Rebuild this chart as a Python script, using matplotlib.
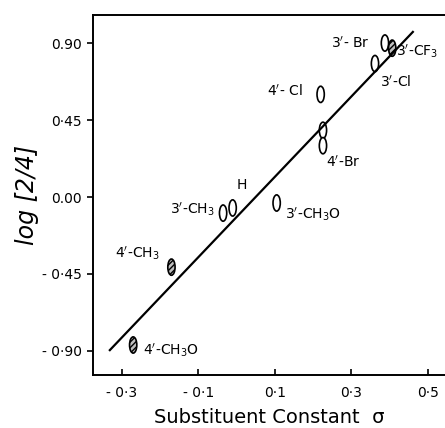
import numpy as np
import matplotlib
matplotlib.use("Agg")
import matplotlib.pyplot as plt
from matplotlib.patches import Ellipse

# substituent constants (sigma) and log [2/4]
sigma = [-0.27, -0.17, -0.035, -0.01, 0.105, 0.22, 0.226, 0.226, 0.362, 0.388, 0.407]
logr = [-0.865, -0.41, -0.094, -0.064, -0.035, 0.60, 0.39, 0.30, 0.78, 0.90, 0.87]
hatched = [True, True, False, False, False, False, False, False, False, False, True]

# fitted line end points
line_x = [-0.331, 0.461]
line_y = [-0.895, 0.965]

# labels: text, x, y, horizontal alignment
labels = [
    ("4$'$-CH$_3$O", -0.245, -0.895, "left"),
    ("4$'$-CH$_3$", -0.20, -0.33, "right"),
    ("3$'$-CH$_3$", -0.058, -0.07, "right"),
    ("H", 0.0, 0.07, "left"),
    ("3$'$-CH$_3$O", 0.127, -0.10, "left"),
    ("4$'$- Cl", 0.172, 0.62, "right"),
    ("4$'$-Br", 0.234, 0.20, "left"),
    ("3$'$-Cl", 0.375, 0.67, "left"),
    ("3$'$- Br", 0.349, 0.90, "right"),
    ("3$'$-CF$_3$", 0.418, 0.85, "left"),
]

xticks = [-0.3, -0.1, 0.1, 0.3, 0.5]
xticklabels = ["- 0·3", "- 0·1", "0·1", "0·3", "0·5"]
yticks = [0.90, 0.45, 0.0, -0.45, -0.90]
yticklabels = ["0.90", "0·45", "0.00", "- 0·45", "- 0·90"]

fig = plt.figure(figsize=(4.45, 4.28), dpi=100)
ax = fig.add_axes([0.209, 0.124, 0.791, 0.841])

ax.plot(line_x, line_y, color="black", lw=1.6)

for s, l, h in zip(sigma, logr, hatched):
    if h:
        e = Ellipse((s, l), 0.019, 0.095, facecolor="0.75", edgecolor="black",
                    hatch="//////", lw=1.2)
    else:
        e = Ellipse((s, l), 0.019, 0.095, facecolor="white", edgecolor="black", lw=1.2)
    ax.add_patch(e)

for t, x, y, ha in labels:
    ax.text(x, y, t, ha=ha, va="center", fontsize=10)

ax.set_xlim(-0.375, 0.545)
ax.set_ylim(-1.04, 1.064)
ax.set_xticks(xticks)
ax.set_xticklabels(xticklabels, fontsize=10)
ax.set_yticks(yticks)
ax.set_yticklabels(yticklabels, fontsize=10)
ax.tick_params(axis="x", direction="in", length=4, width=1.2, pad=8)
ax.tick_params(axis="y", direction="out", length=4, width=1.2, pad=4)
ax.spines["right"].set_visible(False)
for sp in ["left", "top", "bottom"]:
    ax.spines[sp].set_linewidth(1.4)

ax.set_xlabel("Substituent Constant  σ", fontsize=14, labelpad=6)
ax.set_ylabel("log [2/4]", fontsize=17, style="italic", labelpad=2)

fig.savefig("out.png", dpi=100)
